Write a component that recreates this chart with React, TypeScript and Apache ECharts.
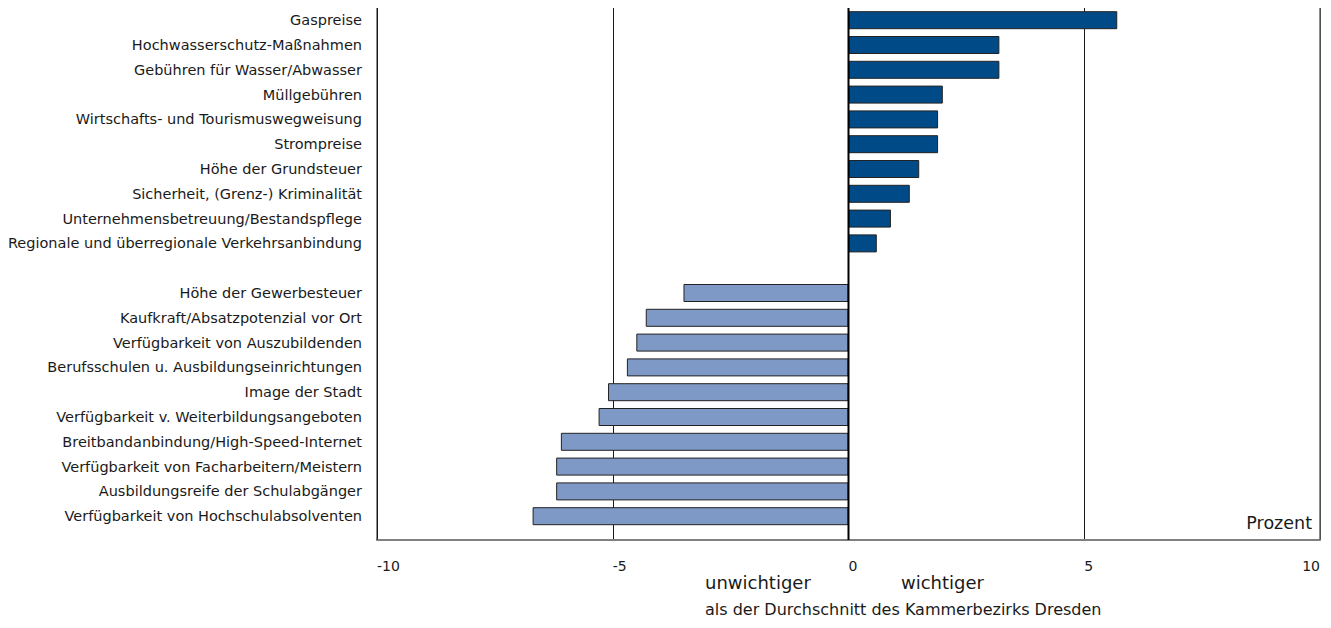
import React, { useEffect, useRef } from "react";
import * as echarts from "echarts";

const categories = [
  "Gaspreise",
  "Hochwasserschutz-Maßnahmen",
  "Gebühren für Wasser/Abwasser",
  "Müllgebühren",
  "Wirtschafts- und Tourismuswegweisung",
  "Strompreise",
  "Höhe der Grundsteuer",
  "Sicherheit, (Grenz-) Kriminalität",
  "Unternehmensbetreuung/Bestandspflege",
  "Regionale und überregionale Verkehrsanbindung",
  "",
  "Höhe der Gewerbesteuer",
  "Kaufkraft/Absatzpotenzial vor Ort",
  "Verfügbarkeit von Auszubildenden",
  "Berufsschulen u. Ausbildungseinrichtungen",
  "Image der Stadt",
  "Verfügbarkeit v. Weiterbildungsangeboten",
  "Breitbandanbindung/High-Speed-Internet",
  "Verfügbarkeit von Facharbeitern/Meistern",
  "Ausbildungsreife der Schulabgänger",
  "Verfügbarkeit von Hochschulabsolventen",
];

const moreImportant = [5.7, 3.2, 3.2, 2.0, 1.9, 1.9, 1.5, 1.3, 0.9, 0.6];
const lessImportant = [-3.5, -4.3, -4.5, -4.7, -5.1, -5.3, -6.1, -6.2, -6.2, -6.7];

const xTicks = [-10, -5, 0, 5, 10];

const FONT = "DejaVu Sans";
const POS_COLOR = "#004a87";
const NEG_COLOR = "#7f99c7";

export default function App() {
  const ref = useRef<HTMLDivElement>(null);

  useEffect(() => {
    if (!ref.current) return;
    const chart = echarts.init(ref.current, undefined, { renderer: "svg" });

    const barData: any[] = [
      ...moreImportant.map((v) => ({ value: v, itemStyle: { color: POS_COLOR } })),
      { value: null },
      ...lessImportant.map((v) => ({ value: v, itemStyle: { color: NEG_COLOR } })),
    ];

    const verticalRule = (x: number, color: string, width: number, z: number) => ({
      type: "line",
      xAxisIndex: 1,
      yAxisIndex: 1,
      data: [
        [x, 0],
        [x, 1],
      ],
      showSymbol: false,
      symbol: "none",
      lineStyle: { color, width },
      silent: true,
      z,
    });

    const option: any = {
      animation: false,
      backgroundColor: "#ffffff",
      textStyle: { fontFamily: FONT },
      grid: [
        { left: 377, right: 11, top: 7.8, height: 520.8 },
        { left: 377, right: 11, top: 8, bottom: 88 },
      ],
      xAxis: [
        {
          gridIndex: 0,
          type: "value",
          min: xTicks[0],
          max: xTicks[xTicks.length - 1],
          interval: 5,
          show: false,
        },
        {
          gridIndex: 1,
          type: "value",
          min: xTicks[0],
          max: xTicks[xTicks.length - 1],
          interval: 5,
          axisLine: { show: true, onZero: false, lineStyle: { color: "#808080", width: 2 } },
          axisTick: { show: false },
          axisLabel: {
            fontFamily: FONT,
            fontSize: 14,
            color: "#1a1a1a",
            margin: 19,
            align: "left",
            alignMaxLabel: "right",
          },
          splitLine: {
            show: true,
            lineStyle: { color: "#1a1a1a", width: 1 },
          },
        },
      ],
      yAxis: [
        {
          gridIndex: 0,
          type: "category",
          inverse: true,
          data: categories,
          axisLine: { show: false },
          axisTick: { show: false },
          splitLine: { show: false },
          axisLabel: {
            fontFamily: FONT,
            fontSize: 14.5,
            color: "#1a1a1a",
            margin: 15,
            interval: 0,
          },
        },
        {
          gridIndex: 1,
          type: "value",
          min: 0,
          max: 1,
          show: false,
        },
      ],
      series: [
        {
          type: "bar",
          xAxisIndex: 0,
          yAxisIndex: 0,
          data: barData,
          barWidth: 18,
          itemStyle: { borderColor: "#222222", borderWidth: 1 },
          z: 3,
        },
        verticalRule(xTicks[0], "#1a1a1a", 1, 4),
        verticalRule(xTicks[xTicks.length - 1], "#666666", 1.5, 4),
        verticalRule(0, "#000000", 2, 5),
      ],
      graphic: [
        {
          type: "text",
          right: 19,
          top: 514,
          style: { text: "Prozent", fontFamily: FONT, fontSize: 17.5, fill: "#1a1a1a" },
        },
        {
          type: "text",
          left: 705,
          top: 573,
          style: { text: "unwichtiger", fontFamily: FONT, fontSize: 18, fill: "#1a1a1a" },
        },
        {
          type: "text",
          left: 901,
          top: 573,
          style: { text: "wichtiger", fontFamily: FONT, fontSize: 18, fill: "#1a1a1a" },
        },
        {
          type: "text",
          left: 705,
          top: 601,
          style: {
            text: "als der Durchschnitt des Kammerbezirks Dresden",
            fontFamily: FONT,
            fontSize: 16,
            fill: "#1a1a1a",
          },
        },
      ],
    };

    chart.setOption(option);
    return () => chart.dispose();
  }, []);

  return <div ref={ref} style={{ width: 1331, height: 628, position: "absolute", left: 0, top: 0 }} />;
}
